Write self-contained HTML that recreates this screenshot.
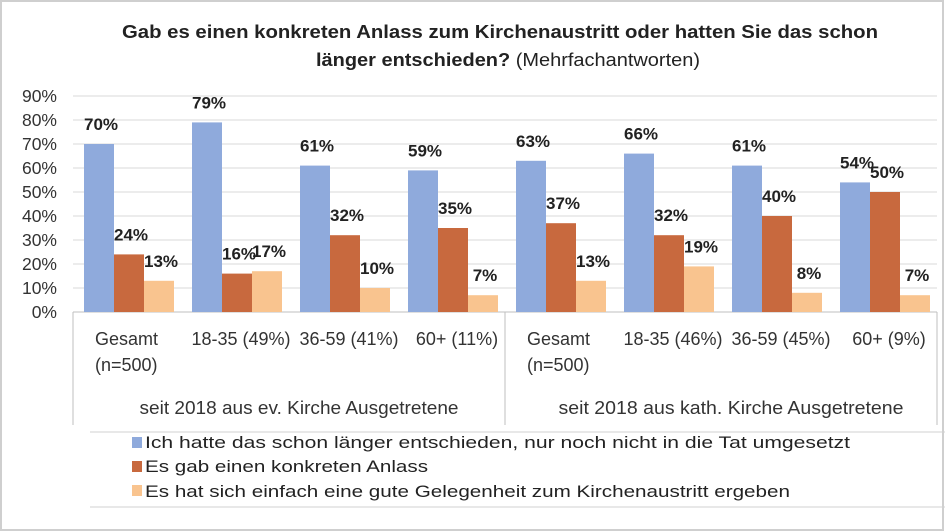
<!DOCTYPE html>
<html><head><meta charset="utf-8"><style>
body{margin:0;background:#fff;font-family:"Liberation Sans",sans-serif}
#wrap{position:relative;width:945px;height:532px;overflow:hidden;background:#fff}
</style></head><body>
<div id="wrap">
<svg id="svg" width="945" height="532" xmlns="http://www.w3.org/2000/svg">
<rect x="1" y="1" width="942" height="529" fill="none" stroke="#cfcfcf" stroke-width="2"/>
<text x="122" y="38" textLength="756" lengthAdjust="spacingAndGlyphs" font-size="18" font-weight="bold" fill="#222">Gab es einen konkreten Anlass zum Kirchenaustritt oder hatten Sie das schon</text>
<text x="316" y="66" textLength="384" lengthAdjust="spacingAndGlyphs" font-size="18" fill="#222"><tspan font-weight="bold">länger entschieden?</tspan> (Mehrfachantworten)</text>
<g id="plot"></g>
<line x1="90" y1="432" x2="945" y2="432" stroke="#d0d0d0"/>
<line x1="90" y1="507" x2="945" y2="507" stroke="#d0d0d0"/>
<g font-size="17" fill="#222">
<rect x="132" y="437" width="10" height="11" fill="#8faadc"/>
<text x="145" y="448" textLength="705" lengthAdjust="spacingAndGlyphs">Ich hatte das schon länger entschieden, nur noch nicht in die Tat umgesetzt</text>
<rect x="132" y="461" width="10" height="11" fill="#c8693e"/>
<text x="145" y="472" textLength="283" lengthAdjust="spacingAndGlyphs">Es gab einen konkreten Anlass</text>
<rect x="132" y="485" width="10" height="11" fill="#f9c48f"/>
<text x="145" y="497" textLength="645" lengthAdjust="spacingAndGlyphs">Es hat sich einfach eine gute Gelegenheit zum Kirchenaustritt ergeben</text>
</g>
</svg>
</div>
<script>
const categories=["Gesamt|(n=500)","18-35 (49%)","36-59 (41%)","60+ (11%)","Gesamt|(n=500)","18-35 (46%)","36-59 (45%)","60+ (9%)"];
const groups=["seit 2018 aus ev. Kirche Ausgetretene","seit 2018 aus kath. Kirche Ausgetretene"];
const seriesLonger=[70,79,61,59,63,66,61,54];
const seriesAnlass=[24,16,32,35,37,32,40,50];
const seriesGelegenheit=[13,17,10,7,13,19,8,7];
const yTicks=[0,10,20,30,40,50,60,70,80,90];
const NS="http://www.w3.org/2000/svg";
const g=document.getElementById('plot');
const x0=73,cw=108,y0=312,pxPer=2.4,bw=30;
const yS=v=>y0-v*pxPer;
const xS=i=>x0+i*cw;
function mk(t,a){const e=document.createElementNS(NS,t);for(const k in a)e.setAttribute(k,a[k]);g.appendChild(e);return e;}
yTicks.forEach(v=>{
 if(v>0){const l=mk('line',{x1:x0,x2:x0+8*cw,y1:yS(v),y2:yS(v),stroke:'#d9d9d9'});
 
 }
 const t=mk('text',{x:57,y:yS(v)+6,'text-anchor':'end','font-size':'17.5',fill:'#333'});t.textContent=v+'%';
 
 
});
const ax=mk('line',{x1:x0,x2:x0+8*cw,y1:y0,y2:y0,stroke:'#bfbfbf'});


[0,4,8].forEach(i=>{const l=mk('line',{x1:xS(i),x2:xS(i),y1:y0,y2:425,stroke:'#bfbfbf'});
 
 });
const series=[[seriesLonger,'#8faadc','longer'],[seriesAnlass,'#c8693e','anlass'],[seriesGelegenheit,'#f9c48f','gelegenheit']];
categories.forEach((c,i)=>{
 series.forEach((s,j)=>{
  const v=s[0][i];const bx=xS(i)+11+j*bw;
  const r=mk('rect',{x:bx,y:yS(v),width:bw,height:v*pxPer,fill:s[1]});
  
  
  const t=mk('text',{x:bx+bw/2+2,y:yS(v)-14,'text-anchor':'middle','font-size':'17','font-weight':'bold',fill:'#222'});
  t.textContent=v+'%';
  
  
 });
 const parts=c.split('|');
 parts.forEach((p,k)=>{
  const t=mk('text',{x:parts.length>1?xS(i)+22:xS(i)+cw/2+6,y:345+k*26,'text-anchor':parts.length>1?'start':'middle','font-size':'18',fill:'#333'});
  t.textContent=p;
  
  
 });
});
groups.forEach((gname,i)=>{
 const t=mk('text',{x:xS(i*4)+2*cw+10,y:414,'text-anchor':'middle','font-size':'18',fill:'#333',textLength:i?'345':'319',lengthAdjust:'spacingAndGlyphs'});
 t.textContent=gname;
 
 
});
</script>
</body></html>
